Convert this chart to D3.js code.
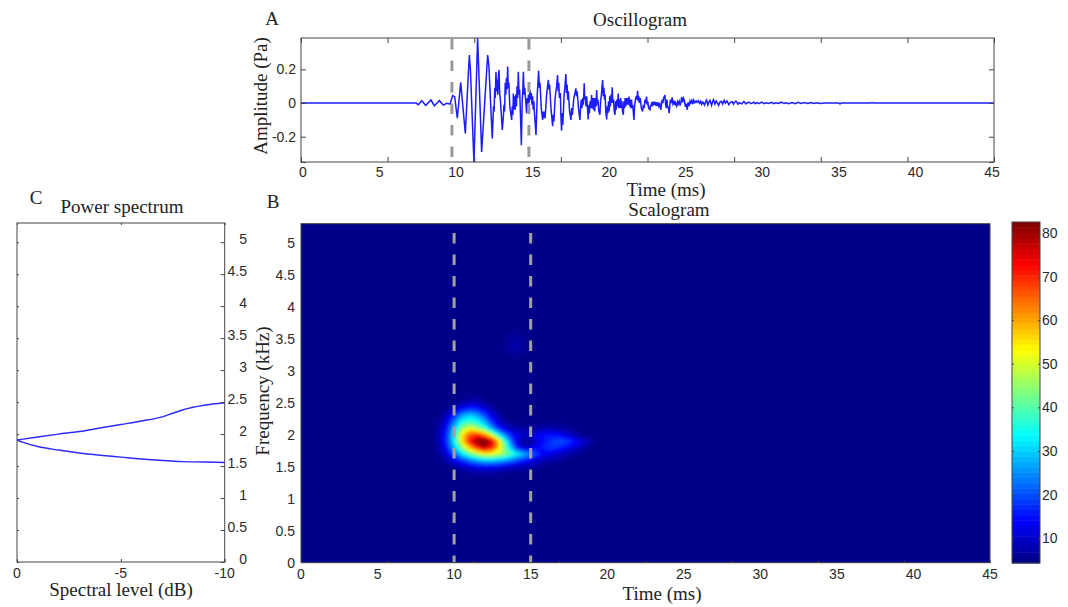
<!DOCTYPE html>
<html>
<head>
<meta charset="utf-8">
<script src="https://cdn.jsdelivr.net/npm/d3@7"></script>
<style>
  body { margin: 0; background: #fff; }
  text { font-family: "Liberation Sans", Arial, sans-serif; font-size: 14px; fill: #2a2a2a; }
  .serif { font-family: "Liberation Serif", "Times New Roman", serif; font-size: 19px; fill: #222; }
  .tick-marks path { display: none; }
  .tick-marks line { stroke: #444; }
  .frame { fill: none; stroke: #444; }
</style>
</head>
<body>
<svg id="chart" width="1068" height="607"></svg>
<script>
// values

const timeLabels = [0, 5, 10, 15, 20, 25, 30, 35, 40, 45];
// the tick marks do not line up with the labels in the original
const timeTicks = [0, 5.625, 11.25, 16.875, 22.5, 28.125, 33.75, 39.375, 45];
const ampLabels = [0.2, 0, -0.2];
const ampTicks = [-0.35, -0.2, 0, 0.2];
const freqLabels = [0, 0.5, 1, 1.5, 2, 2.5, 3, 3.5, 4, 4.5, 5];
const levelLabels = [0, -5, -10];
const colorLabels = [10, 20, 30, 40, 50, 60, 70, 80];

// oscillogram as [ms, Pa]
const oscQuiet = [[0, 0], [7.47, 0]];
const oscOnset = [[7.62, -0.01], [7.84, 0.014], [8.1, -0.014], [8.44, 0.018], [8.66, -0.016], [8.98, 0.014], [9.24, -0.012], [9.46, -0.002], [9.68, -0.006]];
const oscAttack = [[9.85, 0.044], [9.98, 0.038], [10.15, -0.09], [10.37, 0.123], [10.67, -0.18], [10.93, 0.285], [11.0, 0.2], [11.23, -0.35], [11.47, 0.384], [11.73, -0.29], [12.12, 0.285], [12.2, 0.22], [12.42, -0.21],
  [12.5, -0.02], [12.54, -0.05], [12.58, 0.09], [12.62, 0.03], [12.66, 0.186], [12.7, 0.07], [12.74, 0.14], [12.78, 0.05], [12.82, 0.16], [12.86, 0.196], [12.9, 0.06], [12.96, 0.0], [13.07, -0.16], [13.14, -0.08], [13.18, -0.01], [13.22, -0.05], [13.26, 0.12], [13.3, 0.05], [13.34, 0.15], [13.38, 0.08], [13.42, 0.216], [13.46, 0.09], [13.5, 0.12], [13.56, -0.02], [13.68, -0.1], [13.72, -0.02], [13.76, -0.07], [13.79, 0.057], [13.83, -0.04], [13.87, 0.04], [13.91, -0.04], [13.95, 0.05], [13.99, -0.02], [14.03, 0.1], [14.07, 0.03], [14.11, 0.186], [14.16, 0.05], [14.2, 0.08], [14.31, -0.25], [14.36, 0.0], [14.4, 0.07], [14.44, 0.186], [14.49, 0.05], [14.53, 0.09], [14.65, -0.06], [14.69, 0.03], [14.73, -0.01], [14.77, 0.05], [14.81, 0.0], [14.87, 0.077], [14.92, 0.02], [14.96, 0.06], [15.0, -0.01], [15.04, 0.04], [15.08, -0.04], [15.12, 0.01], [15.16, -0.06], [15.26, -0.19]];
const oscDecay = [[15.34, 0.05], [15.38, 0.11], [15.43, 0.192], [15.48, 0.09], [15.52, 0.12], [15.6, -0.03], [15.69, -0.1], [15.73, -0.05], [15.77, -0.09], [15.81, -0.05], [15.85, -0.09], [15.95, 0.05], [16.06, 0.137], [16.1, 0.08], [16.14, 0.11], [16.24, -0.04], [16.34, -0.137], [16.38, -0.07], [16.42, -0.11], [16.5, 0.03], [16.6, 0.1], [16.66, 0.166], [16.7, 0.07], [16.74, 0.12], [16.78, 0.03], [16.84, 0.06], [16.88, -0.08], [16.92, -0.164], [16.96, -0.06], [17.0, -0.13], [17.04, -0.05], [17.08, 0.04], [17.14, 0.1], [17.2, 0.172], [17.24, 0.06], [17.28, 0.11], [17.32, 0.02], [17.36, 0.07], [17.44, -0.05], [17.53, -0.1], [17.58, -0.03], [17.62, -0.07], [17.72, 0.03], [17.85, 0.087], [17.89, 0.04], [17.93, 0.07], [18.02, -0.03], [18.11, -0.1], [18.16, -0.02], [18.2, 0.02], [18.24, -0.03], [18.3, 0.03], [18.34, -0.01], [18.39, 0.117], [18.43, 0.02], [18.47, 0.04], [18.51, -0.02], [18.55, 0.04], [18.65, -0.097], [18.69, -0.01], [18.73, -0.06], [18.77, 0.01], [18.82, -0.03], [18.87, 0.047], [18.91, -0.03], [18.95, 0.03], [18.99, -0.04], [19.03, 0.03], [19.07, -0.05], [19.12, 0.03], [19.16, -0.02], [19.2, 0.077], [19.24, -0.01], [19.28, 0.02], [19.34, -0.05], [19.41, -0.07], [19.46, 0.02], [19.5, 0.04], [19.54, 0.09], [19.59, 0.136], [19.63, 0.04], [19.67, 0.09], [19.71, 0.02], [19.75, 0.05], [19.79, -0.05], [19.85, -0.097], [19.89, -0.02], [19.93, -0.06], [19.97, 0.01], [20.01, -0.05], [20.05, 0.04], [20.09, -0.02], [20.13, 0.05], [20.17, 0.0], [20.21, 0.093], [20.25, 0.0], [20.3, 0.02], [20.34, -0.05], [20.39, -0.07], [20.43, 0.01], [20.47, -0.04], [20.51, 0.02], [20.55, -0.02], [20.6, 0.057], [20.64, -0.03], [20.68, 0.02], [20.72, -0.03], [20.76, 0.03], [20.8, -0.03], [20.84, 0.01], [20.88, -0.05], [20.93, -0.07], [20.97, 0.01], [21.01, -0.03], [21.05, 0.03], [21.09, -0.02], [21.14, 0.03], [21.18, -0.01], [21.22, 0.03], [21.26, -0.01], [21.3, 0.038], [21.34, -0.02], [21.38, 0.02], [21.42, -0.03], [21.46, 0.02], [21.5, -0.03], [21.54, -0.01], [21.62, -0.1], [21.66, -0.02], [21.7, 0.01], [21.76, 0.04], [21.8, 0.02], [21.86, 0.073], [21.9, 0.01], [21.94, 0.04], [21.98, 0.0], [22.03, 0.03], [22.1, -0.03], [22.18, -0.05], [22.23, -0.01], [22.28, -0.03], [22.34, 0.02], [22.38, 0.0], [22.44, 0.038], [22.48, -0.01], [22.52, 0.01], [22.57, -0.03], [22.66, -0.04], [22.7, -0.01], [22.74, -0.02], [22.78, 0.005], [22.82, -0.02], [22.87, 0.008], [22.92, -0.012], [22.98, 0.008], [23.03, -0.015], [23.08, 0.005], [23.13, -0.018], [23.18, 0.004], [23.24, -0.02], [23.3, -0.005], [23.37, -0.04], [23.42, 0.0], [23.46, 0.02], [23.5, 0.0], [23.55, 0.03], [23.63, 0.047], [23.68, -0.01], [23.72, -0.03], [23.76, 0.02], [23.8, -0.02], [23.86, -0.03], [23.91, -0.06], [23.96, 0.0], [24.0, 0.02], [24.05, 0.0], [24.1, 0.034], [24.15, -0.005], [24.2, 0.006], [24.25, -0.01], [24.3, 0.012], [24.34, -0.012], [24.39, -0.02], [24.45, 0.008], [24.5, -0.006], [24.56, 0.01], [24.62, -0.015]];
const oscTail = [[24.68, 0.01], [24.72, 0.037], [24.78, 0.004], [24.84, 0.028], [24.9, 0.012], [24.96, -0.022], [25.02, -0.004], [25.08, -0.04], [25.14, 0.004], [25.2, -0.018], [25.26, 0.012], [25.32, 0.0], [25.38, 0.016], [25.44, -0.006], [25.5, 0.018], [25.58, 0.002], [25.66, 0.012], [25.72, 0.004], [25.8, 0.014], [25.88, -0.002], [25.96, 0.01], [26.02, -0.008], [26.1, 0.006], [26.2, -0.012], [26.28, 0.008], [26.34, 0.018], [26.42, -0.012], [26.48, 0.004], [26.56, 0.016], [26.66, -0.014], [26.72, 0.006], [26.78, 0.02], [26.88, -0.006], [26.96, 0.012], [27.02, 0.002], [27.12, -0.014], [27.2, 0.006], [27.3, 0.01], [27.38, -0.006], [27.48, 0.016], [27.56, 0.0], [27.66, 0.012], [27.78, -0.01], [27.86, 0.002], [28.0, 0.008], [28.08, -0.006], [28.14, 0.004], [28.24, 0.012], [28.38, -0.007], [28.46, 0.003], [28.54, -0.002], [28.62, -0.005], [28.76, 0.01], [28.88, -0.005], [29.0, 0.003], [29.1, 0.005], [29.22, -0.004], [29.4, 0.005], [29.5, -0.004], [29.62, 0.002], [29.74, -0.004], [29.92, 0.005], [30.06, -0.004], [30.2, 0.002], [30.36, -0.003], [30.56, 0.004], [30.7, -0.004], [30.84, 0.002], [30.98, -0.003], [31.2, 0.005], [31.36, -0.003], [31.5, 0.002], [31.66, -0.004], [31.88, 0.003], [32.1, -0.004], [32.28, 0.004], [32.46, -0.002], [32.7, 0.003], [32.9, -0.003], [33.12, 0.003], [33.3, -0.003], [33.52, 0.002], [33.74, -0.003], [34.0, 0], [34.9, 0], [35.0, -0.005], [35.1, 0], [37.0, 0], [37.08, 0.003], [37.16, 0], [45, 0]];

// power spectrum as [dB, kHz]
const specUpper = [[0, 1.907], [-1, 1.955], [-2, 2.0], [-3, 2.04], [-4, 2.095], [-5, 2.15], [-6, 2.205], [-6.9, 2.26], [-7.5, 2.325], [-8, 2.38], [-9, 2.45], [-10, 2.49]];
const specLower = [[0, 1.907], [-0.3, 1.87], [-1, 1.805], [-2, 1.75], [-3, 1.705], [-4, 1.67], [-5, 1.64], [-6, 1.61], [-7, 1.587], [-8, 1.57], [-9, 1.563], [-10, 1.555]];

// scalogram level read in a 0.5 ms x 0.1 kHz window, rows from 2.7 kHz down to 1.4 kHz
const gridT0 = 8.5, gridDt = 0.5, gridFTop = 2.7, gridDf = 0.1;
const gridMain = [
  [5,5,5,5,5,5,5,5,5,5,5,5,5,5,5,5,5,5,5,5,5,5,5,5],
  [5,5,5,5,5,5,6,5,5,5,5,5,5,5,5,5,5,5,5,5,5,5,5,5],
  [5,5,5,5,7,9,9,7,5,5,5,5,5,5,5,5,5,5,5,5,5,5,5,5],
  [5,5,6,10,15,18,17,12,8,5,5,5,5,5,5,5,5,5,5,5,5,5,5,5],
  [5,5,9,17,26,30,27,20,12,7,5,5,5,5,5,5,5,5,5,5,5,5,5,5],
  [5,6,12,24,35,38,35,28,17,10,6,5,5,5,5,5,5,5,5,5,5,5,5,5],
  [5,7,15,29,45,52,47,39,26,15,10,8,7,7,7,8,8,7,6,5,5,5,5,5],
  [5,8,17,33,54,66,70,62,48,32,20,13,10,11,13,15,15,13,10,7,5,5,5,5],
  [5,8,17,33,54,71,82,86,74,52,31,14,6,6,12,16,19,20,18,14,10,7,5,5],
  [5,7,15,29,44,58,70,78,70,54,36,19,10,11,14,17,18,16,13,10,7,5,5,5],
  [5,6,11,21,31,40,47,52,52,48,42,35,29,24,17,13,11,9,7,6,5,5,5,5],
  [5,5,8,13,18,23,27,30,30,28,25,21,17,13,10,8,7,6,5,5,5,5,5,5],
  [5,5,5,7,9,11,13,14,13,12,10,9,8,7,6,5,5,5,5,5,5,5,5,5],
  [5,5,5,5,5,6,6,6,6,6,5,5,5,5,5,5,5,5,5,5,5,5,5,5]
];
// faint patch near 3.5 kHz, 0.5 ms x 0.1 kHz from 13 ms / 3.7 kHz
const patchT0 = 13, patchDt = 0.5, patchFTop = 3.7, patchDf = 0.1;
const gridPatch = [
  [5,5,5,5,5],
  [5,5,6,5,5],
  [5,6,7,6,5],
  [5,6,8,6,5],
  [5,6,7,6,5],
  [5,5,5,5,5]
];
const colorMin = 4.3, colorMax = 82.5, gridBase = 5;
const dashTimesOsc = [9.8, 14.8];
const dashTimesScalo = [10, 15];

const svg = d3.select('#chart');

function jet(t) {
  const r = Math.min(4 * t - 1.5, -4 * t + 4.5),
        g = Math.min(4 * t - 0.5, -4 * t + 3.5),
        b = Math.min(4 * t + 0.5, -4 * t + 2.5);
  const c = v => Math.round(255 * Math.max(0, Math.min(1, v)));
  return `rgb(${c(r)},${c(g)},${c(b)})`;
}
const level = v => jet((v - colorMin) / (colorMax - colorMin));

function marks(sel, axis, tx, ty) {
  sel.append('g').attr('class', 'tick-marks')
    .attr('transform', `translate(${tx},${ty})`)
    .call(axis);
}

/* Oscillogram */
const oscX = d3.scaleLinear().domain([0, 45]).range([301, 994]);
const oscY = d3.scaleLinear().domain([-0.35, 0.386]).range([162, 38]);
const oscLabelX = d3.scaleLinear().domain([0, 45]).range([303, 992]);

const osc = svg.append('g').attr('id', 'oscillogram');
const oscData = [...oscQuiet, ...oscOnset, ...oscAttack, ...oscDecay, ...oscTail];
svg.append('clipPath').attr('id', 'osc-clip').append('rect')
  .attr('x', 301).attr('y', 38).attr('width', 693).attr('height', 124);

osc.append('path').datum(oscData)
  .attr('clip-path', 'url(#osc-clip)')
  .attr('fill', 'none').attr('stroke', '#1c1cff').attr('stroke-width', 1.5)
  .attr('d', d3.line().x(d => oscX(d[0])).y(d => oscY(d[1])));

osc.selectAll('line.dash').data(dashTimesOsc).enter().append('line')
  .attr('class', 'dash')
  .attr('x1', d => oscX(d)).attr('x2', d => oscX(d))
  .attr('y1', 39).attr('y2', 160)
  .attr('stroke', '#999').attr('stroke-width', 3).attr('stroke-dasharray', '10.5,11');

marks(osc, d3.axisBottom(oscX).tickValues(timeTicks).tickSize(-5).tickFormat(''), 0, 162);
marks(osc, d3.axisTop(oscX).tickValues(timeTicks).tickSize(-5).tickFormat(''), 0, 38);
marks(osc, d3.axisLeft(oscY).tickValues(ampTicks).tickSize(-5).tickFormat(''), 301, 0);
marks(osc, d3.axisRight(oscY).tickValues(ampTicks).tickSize(-5).tickFormat(''), 994, 0);
osc.append('rect').attr('class', 'frame').attr('x', 301).attr('y', 38).attr('width', 693).attr('height', 124);

osc.selectAll('text.xl').data(timeLabels).enter().append('text')
  .attr('class', 'xl').attr('x', d => oscLabelX(d)).attr('y', 177)
  .attr('text-anchor', 'middle').text(d => d);
osc.selectAll('text.yl').data(ampLabels).enter().append('text')
  .attr('class', 'yl').attr('x', 296).attr('y', d => oscY(d) + 5)
  .attr('text-anchor', 'end').text(d => d);

/* Scalogram */
const scaX = d3.scaleLinear().domain([0, 45]).range([301, 990]);
const scaY = d3.scaleLinear().domain([0, 5.3]).range([562.7, 223.7]);

const sca = svg.append('g').attr('id', 'scalogram');
svg.append('clipPath').attr('id', 'sca-clip').append('rect')
  .attr('x', 301).attr('y', 223.7).attr('width', 689).attr('height', 339);
svg.append('filter').attr('id', 'soft')
  .attr('x', '-10%').attr('y', '-10%').attr('width', '120%').attr('height', '120%')
  .append('feGaussianBlur').attr('stdDeviation', 1.6);

sca.append('rect').attr('x', 301).attr('y', 223.7).attr('width', 689).attr('height', 339)
  .attr('fill', level(gridBase));

const bandStep = (colorMax - colorMin) / 64;
const thresholds = d3.range(1, 64).map(i => colorMin + i * bandStep).filter(v => v > gridBase);

function drawGrid(parent, rows, t0, dt, fTop, df) {
  const n = rows[0].length, m = rows.length;
  const contours = d3.contours().size([n, m]).thresholds(thresholds)(rows.flat());
  const project = d3.geoTransform({
    point(px, py) {
      this.stream.point(scaX(t0 + (px - 0.5) * dt), scaY(fTop - (py - 0.5) * df));
    }
  });
  parent.selectAll(null).data(contours).enter().append('path')
    .attr('d', d3.geoPath(project))
    .attr('fill', d => level(d.value + bandStep / 2));
}
const heat = sca.append('g').attr('clip-path', 'url(#sca-clip)').append('g').attr('filter', 'url(#soft)');
drawGrid(heat, gridMain, gridT0, gridDt, gridFTop, gridDf);
drawGrid(heat, gridPatch, patchT0, patchDt, patchFTop, patchDf);

sca.selectAll('line.dash').data(dashTimesScalo).enter().append('line')
  .attr('class', 'dash')
  .attr('x1', d => scaX(d)).attr('x2', d => scaX(d))
  .attr('y1', 233).attr('y2', 562)
  .attr('stroke', '#a0a0a0').attr('stroke-width', 3).attr('stroke-dasharray', '10.5,11');

marks(sca, d3.axisBottom(scaX).tickValues(timeTicks).tickSize(-2).tickFormat(''), 0, 562.7);
sca.append('rect').attr('class', 'frame').attr('x', 301).attr('y', 223.7).attr('width', 689).attr('height', 339);

sca.selectAll('text.xl').data(timeLabels).enter().append('text')
  .attr('class', 'xl').attr('x', d => scaX(d)).attr('y', 579)
  .attr('text-anchor', 'middle').text(d => d);
sca.selectAll('text.yl').data(freqLabels).enter().append('text')
  .attr('class', 'yl').attr('x', 295).attr('y', d => scaY(d) + 5)
  .attr('text-anchor', 'end').text(d => d);

/* Colour bar */
const barY = d3.scaleLinear().domain([colorMin, colorMax]).range([563, 222]);
const bar = svg.append('g').attr('id', 'colorbar');
bar.selectAll('rect.band').data(d3.range(64)).enter().append('rect')
  .attr('class', 'band').attr('x', 1012).attr('width', 28)
  .attr('y', i => barY(colorMin + (i + 1) * bandStep))
  .attr('height', i => barY(colorMin + i * bandStep) - barY(colorMin + (i + 1) * bandStep) + 0.5)
  .attr('fill', i => level(colorMin + (i + 0.5) * bandStep));
marks(bar, d3.axisLeft(barY).tickValues(colorLabels).tickSize(-2).tickFormat(''), 1012, 0);
marks(bar, d3.axisRight(barY).tickValues(colorLabels).tickSize(-2).tickFormat(''), 1040, 0);
bar.append('rect').attr('class', 'frame').attr('x', 1012).attr('y', 222).attr('width', 28).attr('height', 341);
bar.selectAll('text.yl').data(colorLabels).enter().append('text')
  .attr('class', 'yl').attr('x', 1042).attr('y', d => barY(d) + 5).text(d => d);

/* Power spectrum */
const specX = d3.scaleLinear().domain([0, -10]).range([17, 224.7]);
const specY = d3.scaleLinear().domain([0, 5.3]).range([562, 223]);
const spec = svg.append('g').attr('id', 'spectrum');
const specLine = d3.line().x(d => specX(d[0])).y(d => specY(d[1])).curve(d3.curveMonotoneX);
spec.selectAll('path.curve').data([specUpper, specLower]).enter().append('path')
  .attr('class', 'curve').attr('fill', 'none').attr('stroke', '#2a2aff').attr('stroke-width', 1.4)
  .attr('d', specLine);

marks(spec, d3.axisLeft(specY).tickValues(freqLabels).tickSize(-2).tickFormat(''), 17, 0);
marks(spec, d3.axisRight(specY).tickValues(freqLabels).tickSize(-4).tickFormat(''), 224.7, 0);
marks(spec, d3.axisBottom(specX).tickValues(levelLabels).tickSize(-3).tickFormat(''), 0, 562);
marks(spec, d3.axisTop(specX).tickValues(levelLabels).tickSize(-2).tickFormat(''), 0, 223);
spec.append('rect').attr('class', 'frame').attr('x', 17).attr('y', 223).attr('width', 207.7).attr('height', 339);

spec.selectAll('text.yl').data(freqLabels).enter().append('text')
  .attr('class', 'yl').attr('x', 247).attr('y', d => specY(d) + 2)
  .attr('text-anchor', 'end').text(d => d);
spec.selectAll('text.xl').data(levelLabels).enter().append('text')
  .attr('class', 'xl').attr('x', d => specX(d)).attr('y', 578)
  .attr('text-anchor', 'middle').text(d => d);

/* Titles and axis names */
const caption = (txt, x, y, rotate) => {
  const t = svg.append('text').attr('class', 'serif').attr('text-anchor', 'middle').text(txt);
  if (rotate) t.attr('transform', `translate(${x},${y}) rotate(-90)`);
  else t.attr('x', x).attr('y', y);
};
caption('A', 272, 25);
caption('B', 273, 208);
caption('C', 36, 204);
caption('Oscillogram', 640, 26);
caption('Scalogram', 669, 216);
caption('Power spectrum', 122, 213);
caption('Time (ms)', 666, 196);
caption('Time (ms)', 662, 600);
caption('Spectral level (dB)', 121, 596);
caption('Amplitude (Pa)', 267, 96, true);
caption('Frequency (kHz)', 269, 391, true);
</script>
</body>
</html>
